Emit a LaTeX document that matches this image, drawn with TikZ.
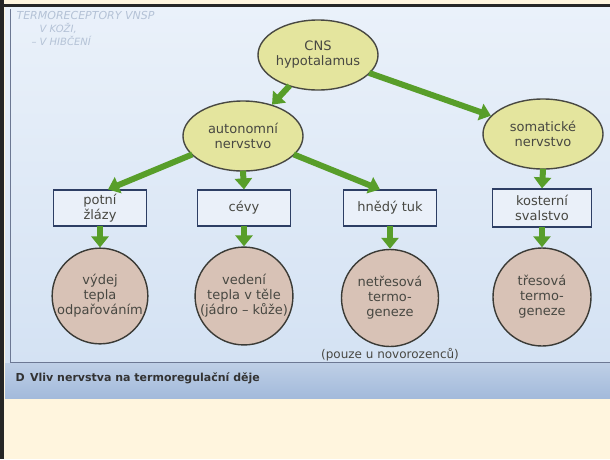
\documentclass[tikz,border=0pt]{standalone}
\usepackage{fontspec}
\setmainfont{DejaVu Sans}
\usetikzlibrary{arrows.meta,shapes.geometric}

\definecolor{paper}{RGB}{255,245,222}
\definecolor{photoTop}{RGB}{234,241,250}
\definecolor{photoBot}{RGB}{212,226,243}
\definecolor{stripTop}{RGB}{190,207,230}
\definecolor{stripBot}{RGB}{163,186,219}
\definecolor{nerveFill}{RGB}{228,229,158}
\definecolor{effectFill}{RGB}{216,194,182}
\definecolor{organFill}{RGB}{234,240,249}
\definecolor{organLine}{RGB}{45,62,100}
\definecolor{arrowGreen}{RGB}{88,158,42}
\definecolor{inkGray}{RGB}{72,72,66}
\definecolor{pencil}{RGB}{180,194,214}

\begin{document}
\begin{tikzpicture}[x=1pt, y=1pt,
		every node/.style={font=\fontsize{13}{15}\selectfont, text=inkGray, align=center},
		nerve/.style={ellipse, draw=inkGray, line width=1.4pt, fill=nerveFill, minimum width=120pt, minimum height=70pt, inner sep=0pt},
		organ/.style={rectangle, draw=organLine, line width=1.2pt, fill=organFill, minimum width=93pt, minimum height=36pt, inner sep=1pt},
		effect/.style={circle, draw=inkGray!80!black, line width=1.4pt, fill=effectFill, minimum size=94pt, inner sep=0pt},
		pencilnote/.style={anchor=west, text=pencil, font=\fontsize{11}{13}\selectfont\itshape},
		fatarrow/.style={draw=arrowGreen, line width=6pt, -{Triangle[length=11pt, width=17pt]}, shorten <=-1pt}]
		\useasboundingbox (0,0) rectangle (610,-459);
		
		% photo and paper
		\fill[paper] (0,0) rectangle (610,-459);
		\shade[top color=photoTop, bottom color=photoBot] (5,-7) rectangle (610,-363);
		\shade[top color=stripTop, bottom color=stripBot] (5,-363) rectangle (610,-398);
		\fill[black!85] (0,0) rectangle (4,-459);
		\fill[black!85] (0,-4) rectangle (610,-7);
		\draw[organLine!70, line width=0.8pt] (10,-9) -- (10,-362) -- (610,-362);
		
		% pencil notes
		\node[pencilnote](NOTE1) at (13,-15){TERMORECEPTORY VNSP};
		\node[pencilnote, font=\fontsize{10}{12}\selectfont\itshape](NOTE2) at (36,-28){V KOŽI,};
		\node[pencilnote, font=\fontsize{10}{12}\selectfont\itshape](NOTE3) at (28,-41){-- V HIBČENÍ};
		
		% nervous system
		\node[nerve](CNS) at (318,-55){CNS\\hypotalamus};
		\node[nerve, below of=CNS, node distance=81pt, xshift=-75pt](AUT){autonomní\\nervstvo};
		\node[nerve, right of=AUT, node distance=300pt, yshift=2pt](SOM){somatické\\nervstvo};
		
		% organs
		\node[organ, below of=AUT, node distance=72pt, xshift=1pt](CEV){cévy};
		\node[organ, left of=CEV, node distance=144pt](POT){potní\\žlázy};
		\node[organ, right of=CEV, node distance=146pt](HNE){hnědý tuk};
		\node[organ, right of=HNE, node distance=152pt, minimum width=99pt, minimum height=38pt](KOS){kosterní\\svalstvo};
		
		% effects
		\node[effect, below of=POT, node distance=88pt](VYD){výdej\\tepla\\odpařováním};
		\node[effect, below of=CEV, node distance=88pt](VED){vedení\\tepla v těle\\(jádro -- kůže)};
		\node[effect, below of=HNE, node distance=90pt, minimum size=97pt](NET){netřesová\\termo-\\geneze};
		\node[effect, below of=KOS, node distance=89pt, minimum size=98pt](TRE){třesová\\termo-\\geneze};
		\node[below of=NET, node distance=57pt, xshift=0pt, font=\fontsize{12}{14}\selectfont](NB){(pouze u novorozenců)};
		
		% arrows
		\draw[fatarrow] (CNS) -- (AUT);
		\draw[fatarrow] (CNS) -- (SOM);
		\draw[fatarrow] (AUT.200) -- ([xshift=8pt]POT.north);
		\draw[fatarrow] (AUT.south) -- (CEV.north);
		\draw[fatarrow] (AUT.-20) -- ([xshift=-10pt]HNE.north);
		\draw[fatarrow] (SOM.south) -- (KOS.north);
		
		\draw[fatarrow] (POT.south) -- (VYD.north);
		\draw[fatarrow] (CEV.south) -- (VED.north);
		\draw[fatarrow] (HNE.south) -- (NET.north);
		\draw[fatarrow] (KOS.south) -- (TRE.north);
		
		% caption
		\node[anchor=west, text=black!80, font=\fontsize{11}{13}\selectfont\bfseries](CAP) at (12,-378){D\enspace Vliv nervstva na termoregulační děje};
\end{tikzpicture}
\end{document}
